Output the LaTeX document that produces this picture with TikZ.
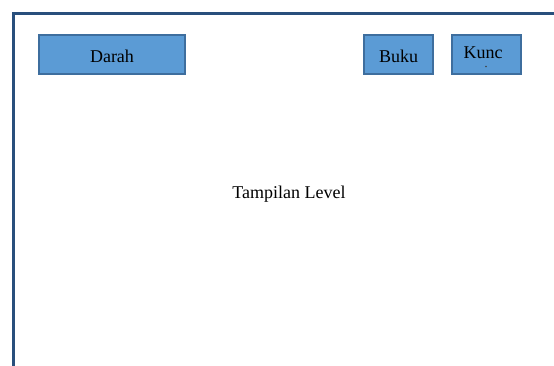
\documentclass[tikz,border=0pt]{standalone}
\usepackage{fontspec}
\setmainfont{Liberation Serif}
\definecolor{boxfill}{HTML}{5B9BD5}
\definecolor{boxedge}{HTML}{3E6E9E}
\definecolor{frameblue}{HTML}{294F7C}
\begin{document}
\begin{tikzpicture}[x=1pt,y=-1pt,
  btn/.style={draw=boxedge, fill=boxfill, line width=1.2pt, inner sep=0pt},
  lbl/.style={font=\fontsize{18}{21}\selectfont, inner sep=0pt}]
\useasboundingbox (0,0) rectangle (554,365);
\draw[frameblue, line width=3pt] (13,366) -- (13,13) -- (555,13);
\node[btn, minimum width=146pt, minimum height=39pt] (darah) at (112,54.5) {};
\node[lbl] at (112,56) {Darah};
\node[btn, minimum width=69pt, minimum height=39pt] (buku) at (398.5,54.5) {};
\node[lbl] at (398.5,56) {Buku};
\node[btn, minimum width=69pt, minimum height=39pt] (kunci) at (486.5,54.5) {};
\node[lbl] (kunctext) at (483,53) {Kunc};
\fill[black!75] (486,66.5) circle (0.8pt);
\node[lbl] (level) at (289,194) {Tampilan Level};
\end{tikzpicture}
\end{document}
